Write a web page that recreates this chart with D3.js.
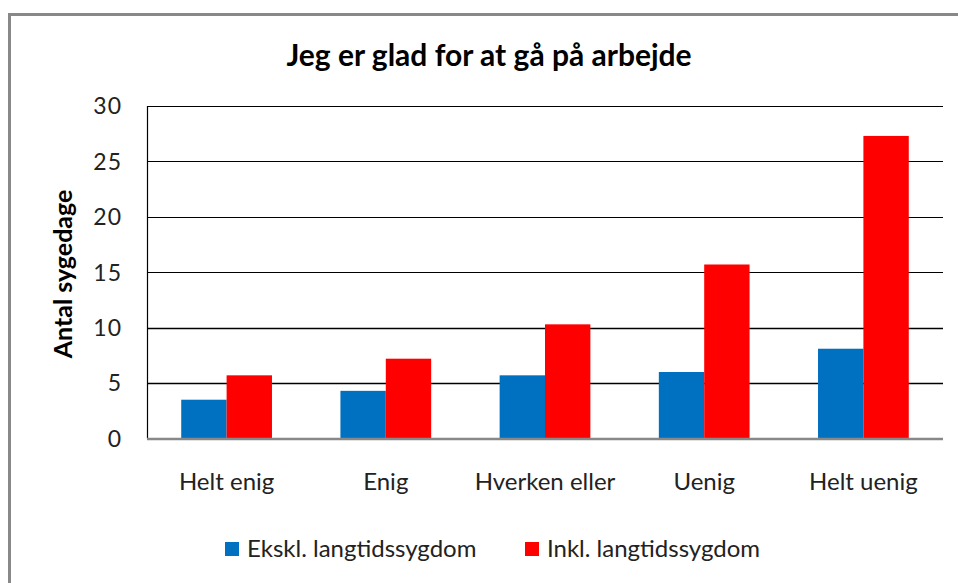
<!DOCTYPE html>
<html>
<head>
<meta charset="utf-8">
<script src="https://cdn.jsdelivr.net/npm/d3@7"></script>
<style>
  html, body { margin: 0; padding: 0; background: #fff; }
  svg { display: block; }
  text { font-family: Lato, "Open Sans", sans-serif; }
</style>
</head>
<body>
<svg id="chart" width="958" height="583"></svg>
<script>
const categories = ["Helt enig", "Enig", "Hverken eller", "Uenig", "Helt uenig"];
const seriesNames = ["Ekskl. langtidssygdom", "Inkl. langtidssygdom"];
const ekskl = [3.5, 4.3, 5.7, 6.0, 8.1];
const inkl = [5.7, 7.2, 10.3, 15.7, 27.3];
const yTicks = [0, 5, 10, 15, 20, 25, 30];
const colors = ["#0070C0", "#FF0000"];
const title = "Jeg er glad for at gå på arbejde";
const yTitle = "Antal sygedage";

const svg = d3.select("#chart");
const W = 958, H = 583;
const m = { left: 147, right: 943, top: 106, bottom: 438.5 };

// outer frame
svg.append("rect").attr("x", 9.5).attr("y", 14.5).attr("width", W + 20).attr("height", H + 20)
  .attr("fill", "#fff").attr("stroke", "#888").attr("stroke-width", 3);

const x = d3.scaleBand().domain(categories).range([m.left, m.right]).paddingInner(0.43).paddingOuter(0.215);
const xs = d3.scaleBand().domain([0, 1]).range([0, x.bandwidth()]);
const y = d3.scaleLinear().domain([0, 30]).range([m.bottom, m.top]);

// gridlines
svg.append("g").selectAll("line").data(yTicks.filter(d => d > 0)).join("line")
  .attr("x1", m.left).attr("x2", m.right)
  .attr("y1", d => Math.round(y(d)) + 0.5).attr("y2", d => Math.round(y(d)) + 0.5)
  .attr("stroke", "#000").attr("stroke-width", d => d <= 10 ? 1.6 : 1.1);

// bars
const data = [ekskl, inkl];
const g = svg.append("g");
categories.forEach((c, i) => {
  data.forEach((s, j) => {
    g.append("rect")
      .attr("x", x(c) + xs(j))
      .attr("width", xs.bandwidth())
      .attr("y", y(s[i]))
      .attr("height", y(0) - y(s[i]))
      .attr("fill", colors[j]);
  });
});

// y axis line
svg.append("line").attr("x1", m.left + 0.5).attr("x2", m.left + 0.5)
  .attr("y1", m.top).attr("y2", m.bottom).attr("stroke", "#000").attr("stroke-width", 1.2);
// x axis line
svg.append("line").attr("x1", m.left).attr("x2", m.right)
  .attr("y1", m.bottom + 0.5).attr("y2", m.bottom + 0.5).attr("stroke", "#888").attr("stroke-width", 2.5);

// y tick labels
svg.append("g").selectAll("text").data(yTicks).join("text")
  .attr("x", 122).attr("y", d => y(d)).attr("dy", "0.36em")
  .attr("text-anchor", "end").attr("font-size", 23).attr("letter-spacing", 1).attr("fill", "#222")
  .text(d => d);

// x labels
svg.append("g").selectAll("text").data(categories).join("text")
  .attr("x", d => x(d) + x.bandwidth() / 2).attr("y", 490)
  .attr("text-anchor", "middle").attr("font-size", 24).attr("fill", "#222")
  .text(d => d);

// title
svg.append("text").attr("x", 489).attr("y", 66).attr("text-anchor", "middle")
  .attr("font-size", 30).attr("font-weight", "bold").attr("fill", "#000").text(title);

// y title
svg.append("text").attr("transform", "translate(72,274) rotate(-90)")
  .attr("text-anchor", "middle").attr("font-size", 25).attr("font-weight", "bold")
  .attr("fill", "#000").text(yTitle);

// legend
const legX = [225, 525];
seriesNames.forEach((n, j) => {
  svg.append("rect").attr("x", legX[j]).attr("y", 542).attr("width", 14).attr("height", 14).attr("fill", colors[j]);
  svg.append("text").attr("x", legX[j] + 22).attr("y", 557).attr("font-size", 24).attr("fill", "#222").text(n);
});
</script>
</body>
</html>
